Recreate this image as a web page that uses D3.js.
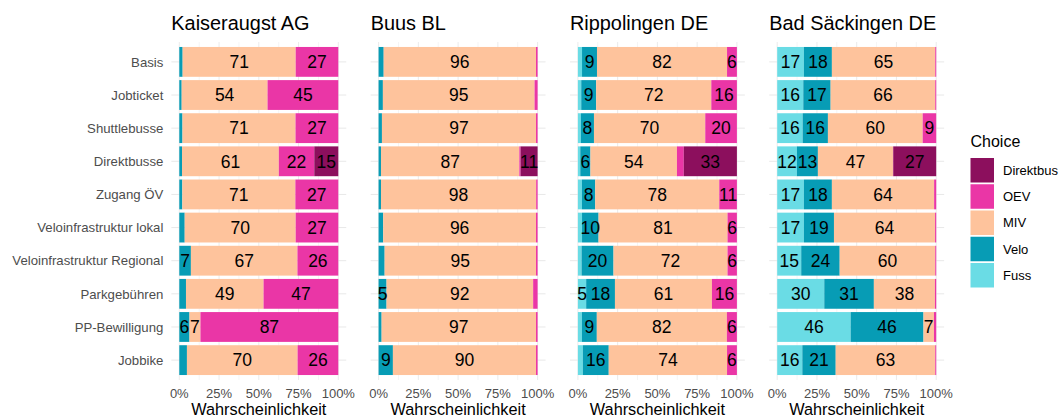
<!DOCTYPE html>
<html>
<head>
<meta charset="utf-8">
<script src="https://cdnjs.cloudflare.com/ajax/libs/d3/7.8.5/d3.min.js"></script>
<style>
  body { margin: 0; background: #fff; }
  text { font-family: "Liberation Sans", Arial, sans-serif; }
</style>
</head>
<body>
<div id="chart"></div>
<script>
// categories (top to bottom)
const categories = ['Basis', 'Jobticket', 'Shuttlebusse', 'Direktbusse', 'Zugang ÖV',
  'Veloinfrastruktur lokal', 'Veloinfrastruktur Regional', 'Parkgebühren', 'PP-Bewilligung', 'Jobbike'];

// stack order left -> right
const modes = ['Fuss', 'Velo', 'MIV', 'OEV', 'Direktbus'];
const legendOrder = ['Direktbus', 'OEV', 'MIV', 'Velo', 'Fuss'];
const modeColors = ['#6adce5', '#079cb5', '#fec39c', '#ea36a6', '#8c0f5d'];

const sites = ['Kaiseraugst AG', 'Buus BL', 'Rippolingen DE', 'Bad Säckingen DE'];

// rows: [Fuss, Velo, MIV, OEV, Direktbus] in %
const kaiseraugst = [
  [0, 2.1, 71.1, 26.8, 0],
  [0, 1.5, 54.0, 44.5, 0],
  [0, 2.0, 71.1, 26.9, 0],
  [0, 1.7, 60.9, 22.3, 15.1],
  [0, 1.9, 71.1, 27.0, 0],
  [0, 3.4, 69.8, 26.8, 0],
  [0, 7.3, 67.0, 25.7, 0],
  [0, 4.2, 48.8, 47.0, 0],
  [0, 6.4, 6.9, 86.7, 0],
  [0, 4.8, 69.6, 25.6, 0]
];
const buus = [
  [0, 3.2, 95.8, 1.0, 0],
  [0, 2.7, 95.4, 1.9, 0],
  [0, 2.1, 96.9, 1.0, 0],
  [0, 1.5, 87.0, 0.8, 10.7],
  [0, 1.5, 97.6, 0.9, 0],
  [0, 2.9, 96.1, 1.0, 0],
  [0, 3.8, 95.2, 1.0, 0],
  [0, 5.0, 92.2, 2.8, 0],
  [0, 1.9, 97.1, 1.0, 0],
  [0, 9.0, 90.0, 1.0, 0]
];
const rippolingen = [
  [2.6, 9.4, 81.8, 6.2, 0],
  [2.1, 9.4, 72.4, 16.1, 0],
  [1.9, 8.2, 70.0, 19.9, 0],
  [1.5, 6.4, 54.4, 4.3, 33.4],
  [2.5, 8.4, 78.0, 11.1, 0],
  [2.6, 10.4, 81.1, 5.9, 0],
  [2.3, 20.1, 71.7, 5.9, 0],
  [5.2, 18.1, 61.0, 15.7, 0],
  [2.5, 9.4, 81.8, 6.3, 0],
  [3.1, 16.3, 74.4, 6.2, 0]
];
const badSaeckingen = [
  [16.8, 17.6, 65.0, 0.6, 0],
  [16.4, 17.2, 65.8, 0.6, 0],
  [16.0, 15.9, 59.6, 8.5, 0],
  [12.4, 13.2, 47.2, 0.2, 27.0],
  [16.8, 17.6, 64.3, 1.3, 0],
  [16.8, 18.9, 63.6, 0.7, 0],
  [15.1, 24.2, 60.1, 0.6, 0],
  [29.6, 31.2, 38.4, 0.8, 0],
  [46.2, 45.8, 6.6, 1.4, 0],
  [15.8, 21.0, 62.6, 0.6, 0]
];
const siteData = [kaiseraugst, buus, rippolingen, badSaeckingen];

const xTicks = [0, 25, 50, 75, 100];
const xMinor = [12.5, 37.5, 62.5, 87.5];

const W = 1059, H = 417;
const panelX0 = 179.3, panelStep = 199.3, panelW = 159;
const plotTop = 42, plotBottom = 380;

const svg = d3.select('#chart').append('svg')
  .attr('width', W).attr('height', H);

const color = d3.scaleOrdinal().domain(modes).range(modeColors);

const y = d3.scaleBand()
  .domain(categories)
  .range([plotTop, plotBottom])
  .paddingInner(0.1)
  .paddingOuter(0.15);

siteData.forEach((rows, p) => {
  const x0 = panelX0 + p * panelStep;
  const x = d3.scaleLinear().domain([0, 100]).range([x0, x0 + panelW]);
  const exp = panelW * 0.05;
  const g = svg.append('g');

  // grid
  g.selectAll('.vminor').data(xMinor).join('line')
    .attr('x1', d => x(d)).attr('x2', d => x(d))
    .attr('y1', plotTop).attr('y2', plotBottom)
    .attr('stroke', '#f0f0f0').attr('stroke-width', 0.7);
  g.selectAll('.vmajor').data(xTicks).join('line')
    .attr('x1', d => x(d)).attr('x2', d => x(d))
    .attr('y1', plotTop).attr('y2', plotBottom)
    .attr('stroke', '#ebebeb').attr('stroke-width', 1);
  g.selectAll('.hmajor').data(categories).join('line')
    .attr('x1', x0 - exp).attr('x2', x0 + panelW + exp)
    .attr('y1', d => y(d) + y.bandwidth() / 2).attr('y2', d => y(d) + y.bandwidth() / 2)
    .attr('stroke', '#e8e8e8').attr('stroke-width', 1);

  // stacked bars
  const stacked = d3.stack().keys(d3.range(modes.length))(rows);
  stacked.forEach((layer, k) => {
    g.selectAll(null).data(layer).join('rect')
      .attr('x', d => x(d[0]))
      .attr('width', d => Math.max(0, x(d[1]) - x(d[0])))
      .attr('y', (d, i) => y(categories[i]))
      .attr('height', y.bandwidth())
      .attr('fill', color(modes[k]));
  });
  stacked.forEach((layer, k) => {
    g.selectAll(null).data(layer.filter(d => d[1] - d[0] >= 5)).join('text')
      .attr('x', d => x((d[0] + d[1]) / 2))
      .attr('y', d => y(categories[rows.indexOf(d.data)]) + y.bandwidth() / 2)
      .attr('dy', '0.36em')
      .attr('text-anchor', 'middle')
      .style('font-size', '17.5px')
      .attr('fill', '#000')
      .text(d => Math.round(d[1] - d[0]));
  });

  // x axis tick labels
  g.selectAll('.xt').data(xTicks).join('text')
    .attr('x', d => x(d)).attr('y', 397.5)
    .attr('text-anchor', 'middle')
    .style('font-size', '13px')
    .attr('fill', '#4d4d4d')
    .text(d => d + '%');

  g.append('text')
    .attr('x', x0 + panelW / 2).attr('y', 414.5)
    .attr('text-anchor', 'middle')
    .style('font-size', '16.3px')
    .attr('fill', '#000')
    .text('Wahrscheinlichkeit');

  // title
  g.append('text')
    .attr('x', x0 - exp).attr('y', 30)
    .style('font-size', '19.9px')
    .attr('fill', '#000')
    .text(sites[p]);

  // y labels on first panel
  if (p === 0) {
    g.selectAll('.yl').data(categories).join('text')
      .attr('x', x0 - exp - 8)
      .attr('y', d => y(d) + y.bandwidth() / 2)
      .attr('dy', '0.36em')
      .attr('text-anchor', 'end')
      .style('font-size', '13.2px')
      .attr('fill', '#4d4d4d')
      .text(d => d);
  }
});

// legend
const legend = svg.append('g').attr('transform', 'translate(970.5,0)');
legend.append('text')
  .attr('x', 0).attr('y', 147)
  .style('font-size', '16px')
  .attr('fill', '#000')
  .text('Choice');
legendOrder.forEach((m, i) => {
  const ky = 158 + i * 26.25;
  legend.append('rect')
    .attr('x', 0).attr('y', ky)
    .attr('width', 23.5).attr('height', 24.5)
    .attr('fill', color(m));
  legend.append('text')
    .attr('x', 32.5).attr('y', ky + 12.25)
    .attr('dy', '0.36em')
    .style('font-size', '13px')
    .attr('fill', '#000')
    .text(m);
});
</script>
</body>
</html>
